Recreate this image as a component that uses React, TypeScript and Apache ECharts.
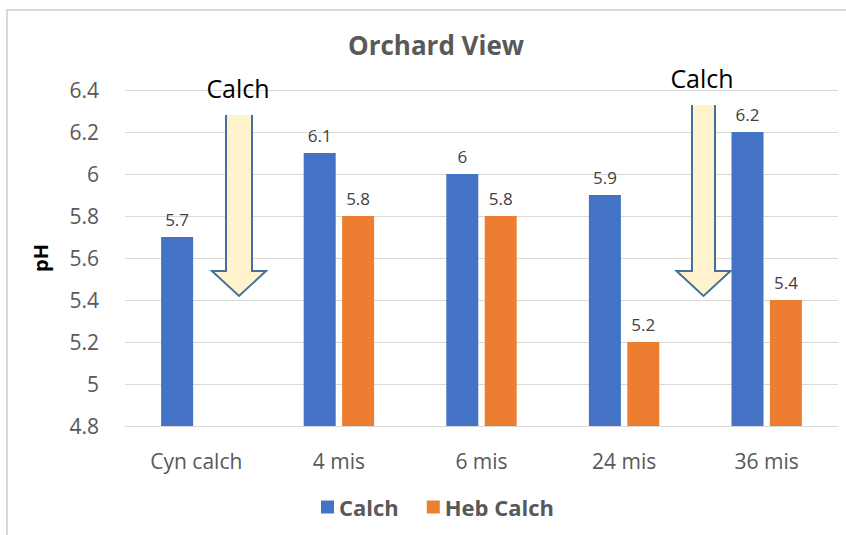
import React, { useEffect, useRef } from "react";
import * as echarts from "echarts";

const categories = ["Cyn calch", "4 mis", "6 mis", "24 mis", "36 mis"];
const calchValues: (number | null)[] = [5.7, 6.1, 6.0, 5.9, 6.2];
const hebCalchValues: (number | null)[] = [null, 5.8, 5.8, 5.2, 5.4];
const seriesNames = ["Calch", "Heb Calch"];
const arrowLabel = "Calch";

const FONT = "'Open Sans', 'Noto Sans', sans-serif";

function arrow(cx: number, top: number, shaftW: number, headTop: number, headW: number, tip: number) {
  const l = cx - shaftW / 2;
  const r = cx + shaftW / 2;
  const hl = cx - headW / 2;
  const hr = cx + headW / 2;
  return [
    {
      type: "polygon",
      shape: { points: [[l, top], [r, top], [r, headTop], [hr, headTop], [cx, tip], [hl, headTop], [l, headTop]] },
      style: { fill: "#FFF2CC", stroke: "none" },
      z: 10,
    },
    {
      type: "polyline",
      shape: { points: [[r, top], [r, headTop], [hr, headTop], [cx, tip], [hl, headTop], [l, headTop], [l, top]] },
      style: { stroke: "#41719C", lineWidth: 2, fill: "none" },
      z: 11,
    },
  ];
}

export default function App() {
  const ref = useRef<HTMLDivElement>(null);
  useEffect(() => {
    document.body.style.margin = "0";
    if (!ref.current) return;
    const chart = echarts.init(ref.current, null, { renderer: "svg" });
    chart.setOption({
      animation: false,
      backgroundColor: "#ffffff",
      textStyle: { fontFamily: FONT },
      title: {
        text: "Orchard View",
        left: 431,
        top: 27,
        textAlign: "center",
        textStyle: { fontSize: 26, fontWeight: "bold", color: "#595959", fontFamily: FONT },
      },
      grid: { left: 125, right: 8, top: 90, bottom: 109 },
      legend: {
        data: seriesNames,
        bottom: 12,
        left: 316,
        itemWidth: 13,
        itemHeight: 13,
        itemGap: 28,
        icon: "rect",
        textStyle: { fontSize: 22, fontWeight: "bold", color: "#595959", fontFamily: FONT },
      },
      xAxis: {
        type: "category",
        data: categories,
        axisTick: { show: false },
        axisLine: { lineStyle: { color: "#d9d9d9", width: 1 } },
        axisLabel: { fontSize: 21, color: "#595959", margin: 24, fontFamily: FONT },
      },
      yAxis: {
        type: "value",
        min: 4.8,
        max: 6.4,
        interval: 0.2,
        name: "pH",
        nameLocation: "middle",
        nameRotate: 90,
        nameGap: 75,
        nameTextStyle: { fontSize: 20, fontWeight: "bold", color: "#000000", fontFamily: FONT },
        axisLine: { show: false },
        axisTick: { show: false },
        splitLine: { lineStyle: { color: "#d9d9d9", width: 1 } },
        axisLabel: {
          fontSize: 21,
          color: "#595959",
          margin: 26,
          fontFamily: FONT,
          formatter: (v: number) => String(Math.round(v * 10) / 10),
        },
      },
      series: [
        {
          name: seriesNames[0],
          type: "bar",
          data: calchValues,
          barWidth: 32,
          barGap: "20%",
          itemStyle: { color: "#4472C4" },
          label: { show: true, position: "top", distance: 9, fontSize: 17, color: "#404040", fontFamily: FONT },
        },
        {
          name: seriesNames[1],
          type: "bar",
          data: hebCalchValues,
          barWidth: 32,
          barGap: "20%",
          itemStyle: { color: "#ED7D31" },
          label: { show: true, position: "top", distance: 9, fontSize: 17, color: "#404040", fontFamily: FONT },
        },
      ],
      graphic: [
        {
          type: "rect",
          shape: { x: 7, y: 10, width: 900, height: 600 },
          style: { fill: "none", stroke: "#d9d9d9", lineWidth: 2 },
          silent: true,
          z: 0,
        },
        ...arrow(239, 115, 26, 271, 54, 296),
        ...arrow(703.5, 105, 23, 271, 54, 296),
        {
          type: "text",
          x: 238,
          y: 88,
          style: { text: arrowLabel, fontSize: 25, fill: "#000000", align: "center", verticalAlign: "middle", fontFamily: FONT },
          z: 12,
        },
        {
          type: "text",
          x: 702,
          y: 78,
          style: { text: arrowLabel, fontSize: 25, fill: "#000000", align: "center", verticalAlign: "middle", fontFamily: FONT },
          z: 12,
        },
      ],
    });
    return () => chart.dispose();
  }, []);
  return <div ref={ref} style={{ width: 846, height: 535 }} />;
}
